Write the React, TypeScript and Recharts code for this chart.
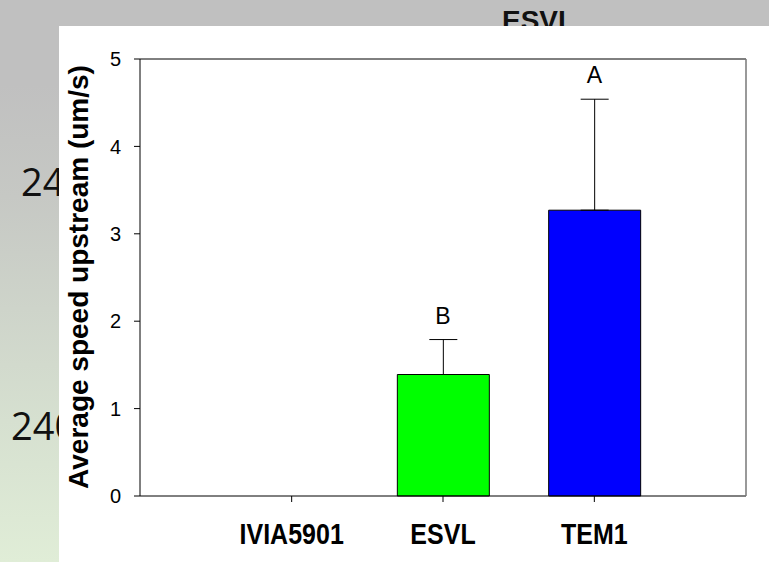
import {
	Bar,
	Cell,
	ComposedChart,
	ErrorBar,
	LabelList,
	Line,
	XAxis,
	YAxis,
} from "recharts";

const strains = ["IVIA5901", "ESVL", "TEM1"];
const meanSpeed = [0, 1.39, 3.27];
const speedSE = [0, 0.4, 1.27];
const letters = ["", "B", "A"];
const barColors = ["#00ff00", "#00ff00", "#0000ff"];
const yTicks = [0, 1, 2, 3, 4, 5];

const data = strains.map((strain, i) => ({
	strain,
	mean: meanSpeed[i],
	err: speedSE[i] > 0 ? [0, speedSE[i]] : null,
	top: meanSpeed[i] + speedSE[i],
	letter: letters[i],
}));

const font = "'Liberation Sans', Arial, sans-serif";

const XTick = ({ x, y, payload }: any) => (
	<g transform={`translate(${x},${y + 40}) scale(1,1.15)`}>
		<text
			x={0}
			y={0}
			textAnchor="middle"
			fontFamily={font}
			fontWeight="bold"
			fontSize={25}
			fill="#000"
		>
			{payload.value}
		</text>
	</g>
);

const YTick = ({ x, y, payload }: any) => (
	<text
		x={x}
		y={y}
		dy="0.36em"
		textAnchor="end"
		fontFamily={font}
		fontSize={20}
		fill="#000"
	>
		{payload.value}
	</text>
);

const LetterLabel = ({ x, y, index }: any) => {
	const txt = letters[index];
	if (!txt) return null;
	return (
		<text
			x={x}
			y={y - 24}
			dy="0.36em"
			textAnchor="middle"
			fontFamily={font}
			fontSize={23}
			fill="#000"
		>
			{txt}
		</text>
	);
};

const YLabel = () => (
	<text
		x={88}
		y={277}
		transform="rotate(-90 88 277)"
		textAnchor="middle"
		fontFamily={font}
		fontWeight="bold"
		fontSize={28}
		fill="#000"
	>
		Average speed upstream (um/s)
	</text>
);

const bgText = {
	position: "absolute" as const,
	fontFamily: "'Open Sans', sans-serif",
	color: "#111",
	lineHeight: 1,
	whiteSpace: "nowrap" as const,
};

export default function App() {
	return (
		<div
			style={{
				position: "absolute",
				left: 0,
				top: 0,
				width: 769,
				height: 562,
				overflow: "hidden",
				background:
					"linear-gradient(to bottom, #c0c0c0 0%, #c0c0c0 15%, #c6c8c4 35%, #d6e0d0 75%, #e0edd7 100%)",
			}}
		>
			<div
				style={{
					...bgText,
					left: 502,
					top: 7,
					fontFamily: font,
					fontWeight: "bold",
					fontSize: 28,
				}}
			>
				ESVL
			</div>
			<div style={{ ...bgText, left: 21, top: 162, fontSize: 38 }}>24</div>
			<div style={{ ...bgText, left: 11, top: 406, fontSize: 38 }}>240</div>
			<div
				style={{
					position: "absolute",
					left: 59,
					top: 26,
					width: 710,
					height: 536,
					background: "#fff",
				}}
			/>
			<div style={{ position: "absolute", left: 0, top: 0 }}>
				<ComposedChart
					width={769}
					height={562}
					data={data}
					margin={{ top: 58, right: 22, left: 0, bottom: 0 }}
				>
					<XAxis
						dataKey="strain"
						height={66}
						padding={{ left: 76, right: 76 }}
						tickSize={6}
						tickLine={{ stroke: "#000" }}
						axisLine={{ stroke: "#000" }}
						tick={<XTick />}
						interval={0}
					/>
					<XAxis
						xAxisId="top"
						dataKey="strain"
						orientation="top"
						height={1}
						tick={false}
						tickLine={false}
						axisLine={{ stroke: "#000" }}
					/>
					<YAxis
						width={140}
						domain={[0, 5]}
						ticks={yTicks}
						type="number"
						tickSize={6}
						tickMargin={13}
						tickLine={{ stroke: "#000" }}
						axisLine={{ stroke: "#000" }}
						tick={<YTick />}
						label={<YLabel />}
					/>
					<YAxis
						yAxisId="right"
						orientation="right"
						width={1}
						domain={[0, 5]}
						type="number"
						tick={false}
						tickLine={false}
						axisLine={{ stroke: "#777", strokeWidth: 1.5 }}
					/>
					<Bar
						dataKey="mean"
						barSize={92}
						stroke="#000"
						strokeWidth={1}
						isAnimationActive={false}
					>
						{data.map((d, i) => (
							<Cell key={d.strain} fill={barColors[i]} />
						))}
						<ErrorBar
							dataKey="err"
							direction="y"
							width={14}
							stroke="#000"
							strokeWidth={1}
						/>
					</Bar>
					<Line
						dataKey="top"
						stroke="none"
						dot={false}
						activeDot={false}
						isAnimationActive={false}
					>
						<LabelList dataKey="letter" content={<LetterLabel />} />
					</Line>
				</ComposedChart>
			</div>
		</div>
	);
}
